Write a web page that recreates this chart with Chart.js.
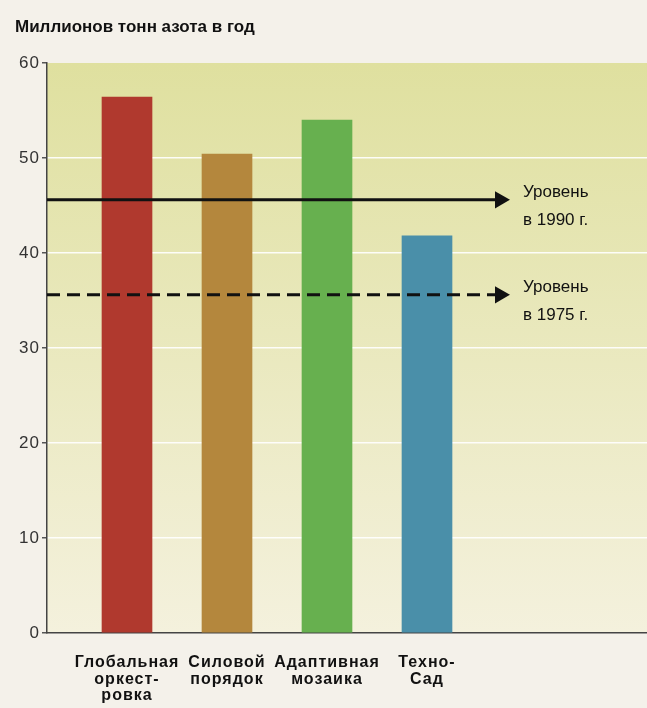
<!DOCTYPE html>
<html>
<head>
<meta charset="utf-8">
<script src="https://cdn.jsdelivr.net/npm/chart.js@4.4.1/dist/chart.umd.min.js"></script>
<style>
  html, body { margin: 0; padding: 0; background: #f4f1ea; }
  #wrap { position: relative; width: 647px; height: 708px; }
</style>
</head>
<body>
<div id="wrap"><canvas id="chart" width="647" height="708"></canvas></div>
<script>
// data
const scenarios = [
  ["Глобальная", "оркест-", "ровка"],
  ["Силовой", "порядок"],
  ["Адаптивная", "мозаика"],
  ["Техно-", "Сад"],
];
const nitrogen = [56.4, 50.4, 54.0, 41.8];
const barColors = ["#b0392e", "#b4873d", "#67b04f", "#4a8fa9"];
const level1990 = 45.6;
const level1975 = 35.6;
const levelLabels = [["Уровень", "в 1990 г."], ["Уровень", "в 1975 г."]];
const yTicks = [0, 10, 20, 30, 40, 50, 60];

const lineEnd = 4.73;

// gradient behind the plot + title + level notes
const decor = {
  id: "decor",
  beforeDraw(chart) {
    const { ctx, chartArea: a } = chart;
    const g = ctx.createLinearGradient(0, a.top, 0, a.bottom);
    g.addColorStop(0, "#dfe09f");
    g.addColorStop(1, "#f4f1dd");
    ctx.save();
    ctx.fillStyle = g;
    ctx.fillRect(a.left, a.top, a.right - a.left, a.bottom - a.top);
    ctx.restore();
    ctx.letterSpacing = "1px";
  },
  afterDraw(chart) {
    const { ctx } = chart;
    ctx.letterSpacing = "0px";
    const x = chart.scales.x, y = chart.scales.y;
    ctx.save();
    ctx.fillStyle = "#111";
    ctx.font = "bold 17px 'Liberation Sans', Arial, sans-serif";
    ctx.textBaseline = "alphabetic";
    ctx.fillText("Миллионов тонн азота в год", 15, 32);
    ctx.font = "17px 'Liberation Sans', Arial, sans-serif";
    [level1990, level1975].forEach((v, i) => {
      const px = x.getPixelForValue(4.96);
      const py = y.getPixelForValue(v);
      ctx.fillText(levelLabels[i][0], px, py - 3);
      ctx.fillText(levelLabels[i][1], px, py + 25);
    });
    ctx.restore();
  }
};

new Chart(document.getElementById("chart"), {
  data: {
    datasets: [
      {
        type: "bar",
        data: nitrogen.map((v, i) => ({ x: i + 1, y: v })),
        backgroundColor: barColors,
        barThickness: 50,
        order: 2,
      },
      {
        type: "line",
        data: [{ x: 0.2, y: level1990 }, { x: lineEnd, y: level1990 }],
        borderColor: "#111",
        borderWidth: 3,
        pointStyle: "triangle",
        pointRotation: 90,
        pointRadius: [0, 7],
        pointBackgroundColor: "#111",
        pointBorderColor: "#111",
        order: 1,
      },
      {
        type: "line",
        data: [{ x: 0.2, y: level1975 }, { x: lineEnd, y: level1975 }],
        borderColor: "#111",
        borderWidth: 3,
        borderDash: [13, 7],
        pointStyle: "triangle",
        pointRotation: 90,
        pointRadius: [0, 7],
        pointBackgroundColor: "#111",
        pointBorderColor: "#111",
        order: 1,
      },
    ],
  },
  options: {
    responsive: false,
    animation: false,
    layout: { autoPadding: false, padding: { left: 15, top: 63, right: 0, bottom: 0 } },
    plugins: { legend: { display: false }, tooltip: { enabled: false } },
    scales: {
      x: {
        type: "linear",
        offset: false,
        min: 0.2,
        max: 6.2,
        afterBuildTicks: (axis) => { axis.ticks = scenarios.map((s, i) => ({ value: i + 1 })); },
        afterFit: (axis) => { axis.height = 75; axis.paddingLeft = 0; axis.paddingRight = 0; },
        grid: { display: false },
        border: { display: true, color: "#444", width: 1.5 },
        ticks: {
          callback: (v) => scenarios[v - 1],
          color: "#111",
          font: { family: "'Liberation Sans', Arial, sans-serif", size: 16, weight: "bold", lineHeight: 1.05 },
          padding: 13,
          maxRotation: 0,
          autoSkip: false,
        },
      },
      y: {
        min: 0,
        max: 60,
        afterBuildTicks: (axis) => { axis.ticks = yTicks.map((v) => ({ value: v })); },
        afterFit: (axis) => { axis.width = 32; },
        grid: {
          color: (c) => (c.tick && c.tick.value > 0 && c.tick.value < 60 ? "rgba(255,255,255,0.9)" : "rgba(0,0,0,0)"),
          lineWidth: 1.5,
          tickColor: "#555",
          tickLength: 5,
        },
        border: { display: true, color: "#444", width: 1.5 },
        ticks: {
          color: "#333",
          font: { family: "'Liberation Sans', Arial, sans-serif", size: 17 },
          padding: 2,
        },
      },
    },
  },
  plugins: [decor],
});
</script>
</body>
</html>
